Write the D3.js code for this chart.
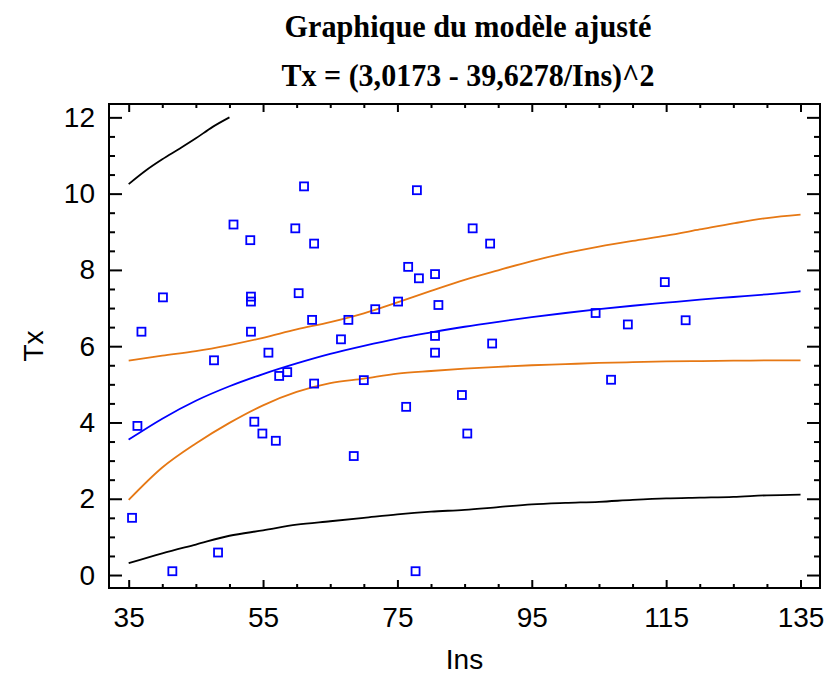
<!DOCTYPE html>
<html>
<head>
<meta charset="utf-8">
<script src="https://cdn.jsdelivr.net/npm/d3@7"></script>
<style>
  html, body { margin: 0; padding: 0; background: #fff; }
  svg { display: block; }
</style>
</head>
<body>
<svg id="chart" width="828" height="674"></svg>
<script>
// ---- Data ----
const titleLine1 = "Graphique du modèle ajusté";
const titleLine2 = "Tx = (3,0173 - 39,6278/Ins)^2";
const xLabel = "Ins";
const yLabel = "Tx";

// observed points
const pointIns = [35.5, 36.3, 36.9, 40.1, 41.5, 47.7, 48.3, 50.6, 53.1, 53.2, 53.2, 53.2, 53.7, 54.9, 55.8, 56.9, 57.4, 58.6, 59.8, 60.3, 61.1, 62.6, 62.3, 62.6, 66.6, 67.7, 68.5, 70.0, 71.7, 75.1, 76.6, 76.3, 77.9, 77.7, 78.2, 80.6, 80.6, 80.6, 81.1, 84.6, 85.4, 86.2, 88.8, 89.1, 104.5, 106.8, 109.3, 114.8, 117.9];
const pointTx  = [1.50, 3.91, 6.38, 7.28, 0.10, 5.63, 0.59, 9.19, 8.78, 7.30, 7.17, 6.38, 4.02, 3.71, 5.83, 3.52, 5.22, 5.32, 9.09, 7.39, 10.19, 8.69, 6.69, 5.02, 6.18, 6.69, 3.12, 5.11, 6.97, 7.17, 8.08, 4.41, 10.09, 0.10, 7.78, 7.89, 6.27, 5.83, 7.08, 4.72, 3.71, 9.09, 8.69, 6.07, 6.87, 5.12, 6.57, 7.68, 6.68];

// curves sampled along Ins
const curveIns     = [35, 40, 45, 50, 55, 60, 65, 70, 75, 80, 85, 90, 95, 100, 105, 110, 115, 120, 125, 130, 135];
const fittedTx     = [3.55, 4.10, 4.57, 4.95, 5.27, 5.55, 5.80, 6.01, 6.20, 6.36, 6.51, 6.64, 6.76, 6.87, 6.97, 7.06, 7.14, 7.22, 7.29, 7.36, 7.44];
const confUpperTx  = [5.62, 5.75, 5.87, 6.03, 6.22, 6.44, 6.63, 6.86, 7.15, 7.45, 7.74, 7.99, 8.23, 8.44, 8.61, 8.76, 8.90, 9.06, 9.22, 9.36, 9.45];
const confLowerTx  = [1.97, 2.82, 3.45, 3.99, 4.45, 4.80, 5.03, 5.15, 5.28, 5.35, 5.41, 5.46, 5.50, 5.53, 5.56, 5.58, 5.60, 5.61, 5.62, 5.63, 5.63];
const predLowerTx  = [0.31, 0.57, 0.80, 1.03, 1.17, 1.32, 1.41, 1.50, 1.59, 1.66, 1.71, 1.78, 1.85, 1.89, 1.92, 1.97, 2.01, 2.03, 2.05, 2.09, 2.11];
const predUpperIns = [35, 37.5, 40, 42.5, 45, 47.5, 50];
const predUpperTx  = [10.25, 10.60, 10.90, 11.17, 11.45, 11.75, 12.00];

const xMajorTicks = [35, 55, 75, 95, 115, 135];
const yMajorTicks = [0, 2, 4, 6, 8, 10, 12];

// ---- Layout ----
const svg = d3.select("#chart");
const L = 109, T = 104, R = 820, B = 588;
const x = d3.scaleLinear().domain([32.07, 137.9]).range([L, R]);
const y = d3.scaleLinear().domain([-0.34, 12.35]).range([B, T]);

const xMinorTicks = d3.range(35, 136, 5).filter(v => !xMajorTicks.includes(v));
const yMinorTicks = d3.range(0, 12.01, 0.5).filter(v => !yMajorTicks.includes(v));

const sans = "'Liberation Sans', Arial, sans-serif";
const serif = "'Liberation Serif', 'Times New Roman', serif";

// Title
svg.append("text").attr("x", 468).attr("y", 37).attr("text-anchor", "middle")
  .attr("font-family", serif).attr("font-weight", "bold").attr("font-size", 31)
  .attr("textLength", 367).attr("lengthAdjust", "spacingAndGlyphs")
  .text(titleLine1);
svg.append("text").attr("x", 468).attr("y", 86).attr("text-anchor", "middle")
  .attr("font-family", serif).attr("font-weight", "bold").attr("font-size", 31)
  .attr("textLength", 373).attr("lengthAdjust", "spacingAndGlyphs")
  .text(titleLine2);

// Axes
function styleAxis(g) {
  g.select(".domain").remove();
  g.selectAll(".tick line").attr("stroke", "#000").attr("stroke-width", 2);
  g.selectAll(".tick text").attr("font-family", sans).attr("font-size", 28).attr("fill", "#000");
}
// bottom
svg.append("g").attr("transform", `translate(0,${B})`)
  .call(d3.axisBottom(x).tickValues(xMajorTicks).tickSize(-8).tickPadding(19).tickFormat(d3.format("d")))
  .call(styleAxis);
svg.append("g").attr("transform", `translate(0,${B})`)
  .call(d3.axisBottom(x).tickValues(xMinorTicks).tickSize(-4).tickFormat(""))
  .call(styleAxis);
// top
svg.append("g").attr("transform", `translate(0,${T})`)
  .call(d3.axisTop(x).tickValues(xMajorTicks).tickSize(-8).tickFormat(""))
  .call(styleAxis);
svg.append("g").attr("transform", `translate(0,${T})`)
  .call(d3.axisTop(x).tickValues(xMinorTicks).tickSize(-4).tickFormat(""))
  .call(styleAxis);
// left
svg.append("g").attr("transform", `translate(${L},0)`)
  .call(d3.axisLeft(y).tickValues(yMajorTicks).tickSize(-13).tickPadding(14).tickFormat(d3.format("d")))
  .call(styleAxis);
svg.append("g").attr("transform", `translate(${L},0)`)
  .call(d3.axisLeft(y).tickValues(yMinorTicks).tickSize(-6).tickFormat(""))
  .call(styleAxis);
// right
svg.append("g").attr("transform", `translate(${R},0)`)
  .call(d3.axisRight(y).tickValues(yMajorTicks).tickSize(-13).tickFormat(""))
  .call(styleAxis);
svg.append("g").attr("transform", `translate(${R},0)`)
  .call(d3.axisRight(y).tickValues(yMinorTicks).tickSize(-6).tickFormat(""))
  .call(styleAxis);

// frame
svg.append("rect").attr("x", L).attr("y", T).attr("width", R - L).attr("height", B - T)
  .attr("fill", "none").attr("stroke", "#000").attr("stroke-width", 2);

// axis titles
svg.append("text").attr("x", (L + R) / 2).attr("y", 669).attr("text-anchor", "middle")
  .attr("font-family", sans).attr("font-size", 28).text(xLabel);
svg.append("text").attr("transform", `translate(43,${(T + B) / 2}) rotate(-90)`)
  .attr("text-anchor", "middle").attr("font-family", sans).attr("font-size", 28).text(yLabel);

// curves
const line = d3.line().x(d => x(d[0])).y(d => y(d[1])).curve(d3.curveMonotoneX);
const plot = svg.append("g");
function drawCurve(xs, ys, color) {
  plot.append("path").datum(xs.map((v, i) => [v, ys[i]]))
    .attr("d", line).attr("fill", "none").attr("stroke", color).attr("stroke-width", 1.8);
}
drawCurve(curveIns, predLowerTx, "#000");
drawCurve(predUpperIns, predUpperTx, "#000");
drawCurve(curveIns, confLowerTx, "#e67814");
drawCurve(curveIns, confUpperTx, "#e67814");
drawCurve(curveIns, fittedTx, "#0000ff");

// points
const s = 8;
plot.selectAll("rect.pt").data(pointIns.map((v, i) => [v, pointTx[i]]))
  .enter().append("rect").attr("class", "pt")
  .attr("x", d => x(d[0]) - s / 2).attr("y", d => y(d[1]) - s / 2)
  .attr("width", s).attr("height", s)
  .attr("fill", "none").attr("stroke", "#0000ff").attr("stroke-width", 1.8);
</script>
</body>
</html>
